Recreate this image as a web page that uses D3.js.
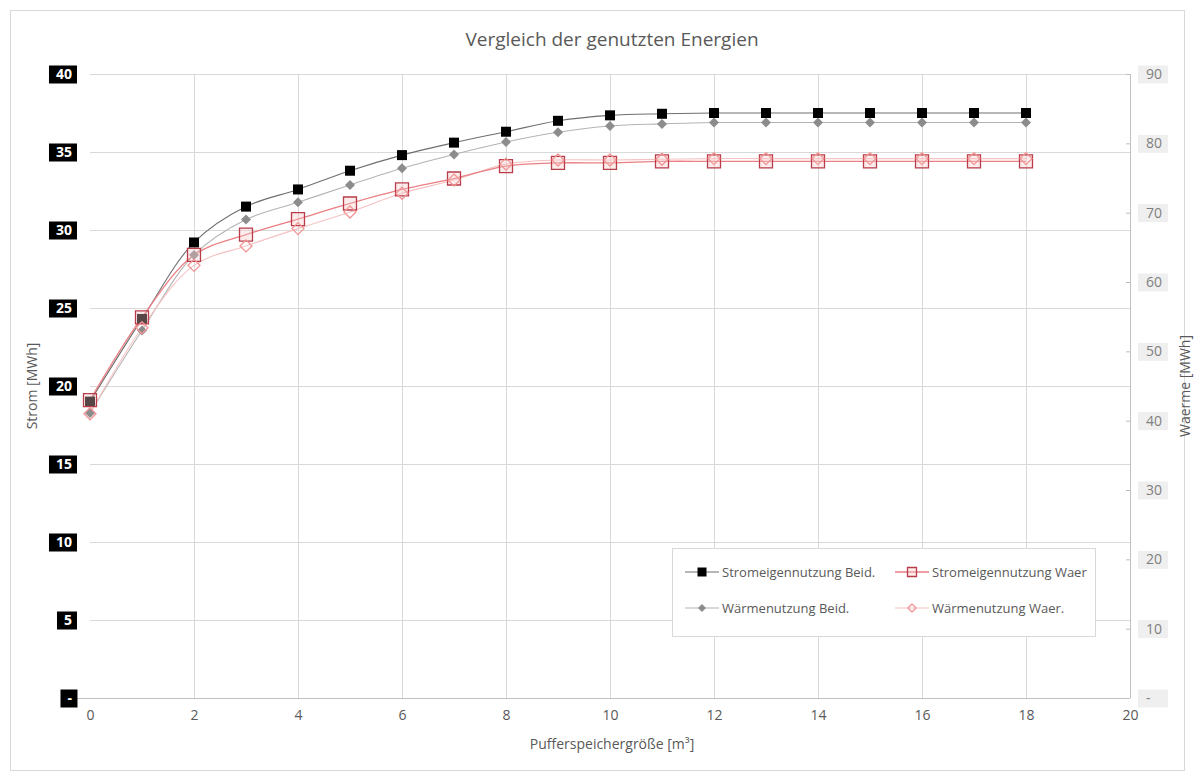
<!DOCTYPE html>
<html>
<head>
<meta charset="utf-8">
<script src="https://cdn.jsdelivr.net/npm/d3@7"></script>
<style>
  html, body { margin: 0; padding: 0; background: #fff; }
  svg text { font-family: "Open Sans", "Noto Sans", sans-serif; }
</style>
</head>
<body>
<svg id="chart" width="1195" height="781"></svg>
<script>
// Buffer tank size [m³]
const sizes = [0,1,2,3,4,5,6,7,8,9,10,11,12,13,14,15,16,17,18];

// Electricity self-consumption [MWh] (left axis)
const stromBeid = [19.0,24.3,29.2,31.5,32.6,33.8,34.8,35.6,36.3,37.0,37.35,37.45,37.5,37.5,37.5,37.5,37.5,37.5,37.5];
const stromWaer = [19.1,24.4,28.4,29.7,30.7,31.7,32.6,33.3,34.1,34.3,34.3,34.4,34.4,34.4,34.4,34.4,34.4,34.4,34.4];

// Heat usage [MWh] (right axis)
const waermeBeid = [41.1,53.0,63.9,69.0,71.5,74.0,76.4,78.4,80.2,81.6,82.5,82.8,83.0,83.0,83.0,83.0,83.0,83.0,83.0];
const waermeWaer = [41.0,53.4,62.4,65.2,67.7,70.1,72.8,74.7,77.0,77.6,77.6,77.7,77.8,77.8,77.8,77.8,77.8,77.8,77.8];

const xTicks = [0,2,4,6,8,10,12,14,16,18,20];
const leftTicks = [0,5,10,15,20,25,30,35,40];
const rightTicks = [0,10,20,30,40,50,60,70,80,90];

const titleText = "Vergleich der genutzten Energien";
const xTitle = "Pufferspeichergröße [m³]";
const yLeftTitle = "Strom [MWh]";
const yRightTitle = "Waerme [MWh]";

const svg = d3.select("#chart");
const plot = { left: 90, right: 1130, top: 74, bottom: 698 };

const x = d3.scaleLinear().domain([0, 20]).range([plot.left, plot.right]);
const yL = d3.scaleLinear().domain([0, 40]).range([plot.bottom, plot.top]);
const yR = d3.scaleLinear().domain([0, 90]).range([plot.bottom, plot.top]);

const narrow = "'Liberation Sans Narrow', 'Open Sans Condensed', 'Open Sans', sans-serif";

// chart frame
svg.append("rect").attr("x", 10.5).attr("y", 10.5).attr("width", 1174).attr("height", 760)
  .attr("fill", "#fff").attr("stroke", "#d9d9d9");

// title
svg.append("text").attr("x", 612).attr("y", 46).attr("text-anchor", "middle")
  .attr("font-size", 19).attr("fill", "#595959").text(titleText);

// gridlines
const grid = svg.append("g");
grid.selectAll("line.h").data(leftTicks.filter(d => d > 0)).join("line")
  .attr("x1", plot.left).attr("x2", plot.right)
  .attr("y1", d => Math.round(yL(d)) + 0.5).attr("y2", d => Math.round(yL(d)) + 0.5)
  .attr("stroke", "#d9d9d9");
grid.selectAll("line.v").data(xTicks.filter(d => d > 0 && d < 20)).join("line")
  .attr("x1", d => Math.round(x(d)) + 0.5).attr("x2", d => Math.round(x(d)) + 0.5)
  .attr("y1", plot.top).attr("y2", plot.bottom)
  .attr("stroke", "#d9d9d9");

// x axis
const xAxis = svg.append("g").attr("transform", `translate(0,${plot.bottom})`)
  .call(d3.axisBottom(x).tickValues(xTicks).tickSize(0).tickPadding(12));
xAxis.select(".domain").remove();
xAxis.append("line").attr("x1", 74).attr("x2", plot.right).attr("y1", 0.5).attr("y2", 0.5)
  .attr("stroke", "#bfbfbf");
xAxis.selectAll(".tick text").attr("font-size", 14).attr("fill", "#595959")
  .attr("font-family", narrow);

svg.append("text").attr("x", 612).attr("y", 749).attr("text-anchor", "middle")
  .attr("font-size", 14).attr("fill", "#595959")
  .attr("font-family", narrow)
  .text(xTitle);

// left axis: white bold labels on black boxes
const yLeftAxis = svg.append("g").attr("transform", `translate(${plot.left},0)`)
  .call(d3.axisLeft(yL).tickValues(leftTicks).tickSize(0).tickPadding(18)
    .tickFormat(d => d === 0 ? "-" : d));
yLeftAxis.select(".domain").remove();
yLeftAxis.selectAll(".tick text").attr("font-size", 14).attr("font-weight", "bold")
  .attr("fill", "#fff");
yLeftAxis.selectAll(".tick").each(function () {
  const g = d3.select(this);
  const t = g.select("text");
  const bb = t.node().getBBox();
  g.insert("rect", "text")
    .attr("x", bb.x - 7).attr("y", -9).attr("width", bb.width + 12).attr("height", 18)
    .attr("fill", "#000");
});

svg.append("text").attr("transform", `translate(37,386) rotate(-90)`)
  .attr("text-anchor", "middle").attr("font-size", 14).attr("fill", "#595959")
  .text(yLeftTitle);

// right axis: grey labels on light boxes
const yRightAxis = svg.append("g").attr("transform", `translate(${plot.right},0)`)
  .call(d3.axisRight(yR).tickValues(rightTicks).tickSize(4).tickPadding(12)
    .tickFormat(d => d === 0 ? "-" : d));
yRightAxis.select(".domain").attr("stroke", "#bfbfbf").attr("d", `M0.5,${plot.top}V${plot.bottom}`);
yRightAxis.selectAll(".tick line").attr("stroke", "#bfbfbf").attr("x1", -4).attr("x2", 0);
yRightAxis.selectAll(".tick text").attr("font-size", 14).attr("fill", "#7f7f7f");
yRightAxis.selectAll(".tick").each(function () {
  const g = d3.select(this);
  g.insert("rect", "text")
    .attr("x", 8).attr("y", -9).attr("width", 30).attr("height", 18)
    .attr("fill", "#efefef");
});

svg.append("text").attr("transform", `translate(1190,386) rotate(-90)`)
  .attr("text-anchor", "middle").attr("font-size", 14).attr("fill", "#595959")
  .text(yRightTitle);

// series
const series = [
  { name: "Stromeigennutzung Beid.", values: stromBeid, y: yL, line: "#6f6f6f", width: 1.1,
    shape: "square", size: 10, fill: "#000", stroke: "none" },
  { name: "Wärmenutzung Beid.", values: waermeBeid, y: yR, line: "#b4b4b4", width: 1.1,
    shape: "diamond", size: 10, fill: "#8c8c8c", stroke: "none" },
  { name: "Stromeigennutzung Waer", values: stromWaer, y: yL, line: "#ea7f84", width: 1.3,
    shape: "square", size: 13, fill: "rgba(250,200,200,0.35)", stroke: "#b83c4a" },
  { name: "Wärmenutzung Waer.", values: waermeWaer, y: yR, line: "#f6c2c2", width: 1.1,
    shape: "diamond", size: 12, fill: "none", stroke: "#f19494" }
];

function markerPath(shape, s) {
  const h = s / 2;
  if (shape === "square") return `M${-h},${-h}H${h}V${h}H${-h}Z`;
  return `M0,${-h}L${h},0L0,${h}L${-h},0Z`;
}

const lineLayer = svg.append("g");
const markLayer = svg.append("g");
// lines first, then markers
[1, 3, 0, 2].forEach(i => {
  const s = series[i];
  const line = d3.line().x((d, j) => x(sizes[j])).y(d => s.y(d)).curve(d3.curveCatmullRom.alpha(0.5));
  lineLayer.append("path").datum(s.values).attr("d", line)
    .attr("fill", "none").attr("stroke", s.line).attr("stroke-width", s.width);
});
[1, 0, 2, 3].forEach(i => {
  const s = series[i];
  markLayer.append("g").selectAll("path").data(s.values).join("path")
    .attr("transform", (d, j) => `translate(${x(sizes[j])},${s.y(d)})`)
    .attr("d", markerPath(s.shape, s.size))
    .attr("fill", s.fill).attr("stroke", s.stroke).attr("stroke-width", 1.3);
});

// legend
const legend = svg.append("g");
legend.append("rect").attr("x", 672.5).attr("y", 548.5).attr("width", 423).attr("height", 88)
  .attr("fill", "#fff").attr("stroke", "#d9d9d9");
const legendPos = [
  { i: 0, x: 685, y: 572 }, { i: 2, x: 895, y: 572 },
  { i: 1, x: 685, y: 608 }, { i: 3, x: 895, y: 608 }
];
legendPos.forEach(p => {
  const s = series[p.i];
  const g = legend.append("g").attr("transform", `translate(${p.x},${p.y})`);
  g.append("line").attr("x1", 0).attr("x2", 34).attr("y1", 0).attr("y2", 0)
    .attr("stroke", s.line).attr("stroke-width", s.width);
  g.append("path").attr("transform", "translate(17,0)")
    .attr("d", markerPath(s.shape, s.shape === "square" ? 9 : 8))
    .attr("fill", s.fill).attr("stroke", s.stroke).attr("stroke-width", 1.3);
  g.append("text").attr("x", 37).attr("y", 4.5).attr("font-size", 13).attr("fill", "#595959")
    .text(s.name);
});
</script>
</body>
</html>
